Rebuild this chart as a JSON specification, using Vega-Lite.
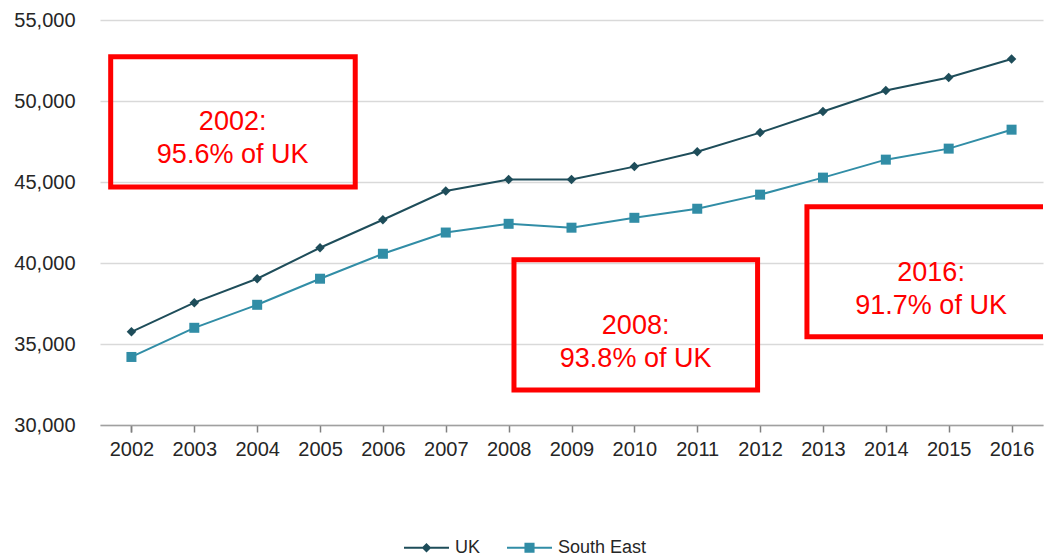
{
  "$schema": "https://vega.github.io/schema/vega-lite/v6.json",
  "width": 943,
  "height": 405,
  "autosize": "none",
  "padding": {"left": 100, "top": 20, "right": 3, "bottom": 134},
  "background": "white",
  "config": {
    "view": {"stroke": null},
    "font": "Liberation Sans",
    "axisX": {
      "domainColor": "#a0a0a0",
      "domainWidth": 1.5,
      "tickColor": "#808080",
      "tickWidth": 1.5,
      "tickSize": 7,
      "tickBand": "extent",
      "labelFontSize": 20,
      "labelColor": "#262626",
      "labelPadding": 7,
      "labelAngle": 0,
      "grid": false
    },
    "axisY": {
      "domain": false,
      "ticks": false,
      "gridColor": "#d9d9d9",
      "gridWidth": 1.5,
      "labelFontSize": 20,
      "labelColor": "#262626",
      "labelPadding": 25
    }
  },
  "datasets": {
    "series": [
      {"year": 2002, "series": "UK", "value": 35750},
      {"year": 2003, "series": "UK", "value": 37550},
      {"year": 2004, "series": "UK", "value": 39030},
      {"year": 2005, "series": "UK", "value": 40940},
      {"year": 2006, "series": "UK", "value": 42670},
      {"year": 2007, "series": "UK", "value": 44440},
      {"year": 2008, "series": "UK", "value": 45150},
      {"year": 2009, "series": "UK", "value": 45150},
      {"year": 2010, "series": "UK", "value": 45950},
      {"year": 2011, "series": "UK", "value": 46870},
      {"year": 2012, "series": "UK", "value": 48050},
      {"year": 2013, "series": "UK", "value": 49350},
      {"year": 2014, "series": "UK", "value": 50650},
      {"year": 2015, "series": "UK", "value": 51450},
      {"year": 2016, "series": "UK", "value": 52590},
      {"year": 2002, "series": "South East", "value": 34200},
      {"year": 2003, "series": "South East", "value": 36000},
      {"year": 2004, "series": "South East", "value": 37420},
      {"year": 2005, "series": "South East", "value": 39030},
      {"year": 2006, "series": "South East", "value": 40570},
      {"year": 2007, "series": "South East", "value": 41880},
      {"year": 2008, "series": "South East", "value": 42420},
      {"year": 2009, "series": "South East", "value": 42180},
      {"year": 2010, "series": "South East", "value": 42790},
      {"year": 2011, "series": "South East", "value": 43350},
      {"year": 2012, "series": "South East", "value": 44220},
      {"year": 2013, "series": "South East", "value": 45270},
      {"year": 2014, "series": "South East", "value": 46380},
      {"year": 2015, "series": "South East", "value": 47060},
      {"year": 2016, "series": "South East", "value": 48230}
    ],
    "boxes": [
      {"x1": 2001.67, "x2": 2005.56, "y1": 52730, "y2": 44690, "cx": 2003.61, "cy": 48700, "label": "2002:\n95.6% of UK"},
      {"x1": 2008.085, "x2": 2011.96, "y1": 40200, "y2": 32165, "cx": 2010.02, "cy": 36120, "label": "2008:\n93.8% of UK"},
      {"x1": 2012.745, "x2": 2017.5, "y1": 43470, "y2": 35440, "cx": 2014.72, "cy": 39365, "label": "2016:\n91.7% of UK"}
    ]
  },
  "layer": [
    {
      "data": {"name": "series"},
      "layer": [
        {
          "mark": {"type": "line", "strokeWidth": 2},
          "encoding": {
            "x": {"field": "year", "type": "ordinal", "title": null, "scale": {"paddingInner": 0, "paddingOuter": 0}},
            "y": {"field": "value", "type": "quantitative", "title": null, "scale": {"domain": [30000, 55000], "nice": false, "zero": false}, "axis": {"values": [30000, 35000, 40000, 45000, 50000, 55000], "format": ",.0f"}},
            "color": {
              "field": "series", "type": "nominal",
              "scale": {"domain": ["UK", "South East"], "range": ["#1e4d5a", "#318da6"]},
              "legend": {
                "orient": "none",
                "legendX": 303,
                "legendY": 504,
                "padding": 0,
                "direction": "horizontal",
                "title": null,
                "labelFontSize": 18,
                "labelColor": "#262626",
                "labelOffset": 5,
                "columnPadding": 22,
                "symbolSize": 2025,
                "symbolStrokeWidth": 2,
                "encode": {
                  "symbols": {
                    "update": {
                      "shape": {"signal": "datum.value === 'UK' ? 'M-1,0H1M0,-0.15L0.15,0L0,0.15L-0.15,0Z' : 'M-1,0H1M-0.18,-0.18H0.18V0.18H-0.18Z'"},
                      "fill": {"signal": "datum.value === 'UK' ? '#1e4d5a' : '#318da6'"},
                      "stroke": {"signal": "datum.value === 'UK' ? '#1e4d5a' : '#318da6'"},
                      "opacity": {"value": 1}
                    }
                  }
                }
              }
            }
          }
        },
        {
          "transform": [{"filter": "datum.series === 'UK'"}],
          "mark": {"type": "point", "filled": true, "opacity": 1, "shape": "diamond", "size": 90},
          "encoding": {
            "x": {"field": "year", "type": "ordinal", "title": null},
            "y": {"field": "value", "type": "quantitative", "title": null, "axis": {"values": [30000, 35000, 40000, 45000, 50000, 55000], "format": ",.0f"}},
            "color": {"field": "series", "type": "nominal", "legend": null}
          }
        },
        {
          "transform": [{"filter": "datum.series === 'South East'"}],
          "mark": {"type": "point", "filled": true, "opacity": 1, "shape": "square", "size": 100},
          "encoding": {
            "x": {"field": "year", "type": "ordinal", "title": null},
            "y": {"field": "value", "type": "quantitative", "title": null, "axis": {"values": [30000, 35000, 40000, 45000, 50000, 55000], "format": ",.0f"}},
            "color": {"field": "series", "type": "nominal", "legend": null}
          }
        }
      ]
    },
    {
      "data": {"name": "boxes"},
      "layer": [
        {
          "mark": {"type": "rect", "filled": false, "stroke": "#ff0000", "strokeWidth": 5, "clip": true},
          "encoding": {
            "x": {"field": "x1", "type": "quantitative", "title": null, "scale": {"domain": [2001.5, 2016.5], "nice": false, "zero": false}, "axis": null},
            "x2": {"field": "x2"},
            "y": {"field": "y1", "type": "quantitative", "title": null, "axis": {"values": [30000, 35000, 40000, 45000, 50000, 55000], "format": ",.0f"}},
            "y2": {"field": "y2"}
          }
        },
        {
          "mark": {"type": "text", "color": "#ff0000", "fontSize": 27, "align": "center", "baseline": "middle", "lineBreak": "\n", "lineHeight": 33},
          "encoding": {
            "x": {"field": "cx", "type": "quantitative", "title": null, "scale": {"domain": [2001.5, 2016.5], "nice": false, "zero": false}, "axis": null},
            "y": {"field": "cy", "type": "quantitative", "title": null, "axis": {"values": [30000, 35000, 40000, 45000, 50000, 55000], "format": ",.0f"}},
            "text": {"field": "label"}
          }
        }
      ]
    }
  ],
  "resolve": {"scale": {"x": "independent"}}
}
